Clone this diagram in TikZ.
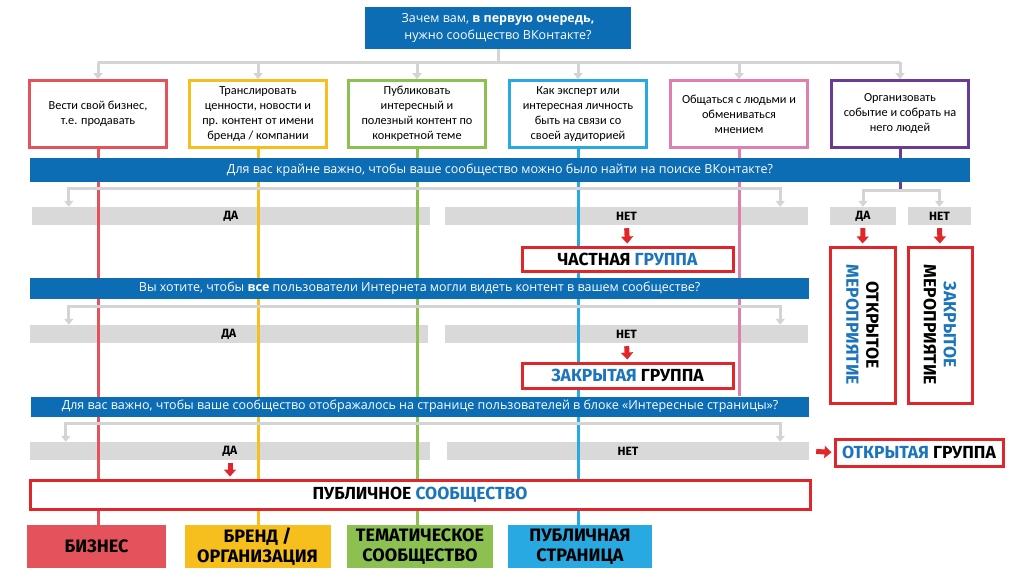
\documentclass[tikz,border=0pt]{standalone}
\usepackage{fontspec}
\setmainfont{Open Sans}
\newfontfamily\boxfont{Carlito}
\newfontfamily\heavyfont{Fira Sans}
\usetikzlibrary{arrows.meta}
\pgfdeclarelayer{bars}
\pgfdeclarelayer{lines}
\pgfsetlayers{bars,lines,main}
\definecolor{vkblue}{HTML}{0C6CB4}
\definecolor{labblue}{HTML}{1C75BC}
\definecolor{resred}{HTML}{E0262B}
\definecolor{connGray}{HTML}{D4D4D4}
\definecolor{barGray}{HTML}{D9D9D9}
\definecolor{cRed}{HTML}{E4535B}
\definecolor{cYellow}{HTML}{F7BF1E}
\definecolor{cGreen}{HTML}{8CC152}
\definecolor{cBlue}{HTML}{29A9E1}
\definecolor{cPink}{HTML}{DE7FAF}
\definecolor{cPurple}{HTML}{6A3B95}
\begin{document}
\begin{tikzpicture}[x=1pt,y=-1pt,
  goal/.style={draw=#1,line width=2.5pt,fill=white,minimum width=137pt,minimum height=67pt,
    inner sep=1pt,align=center,font=\boxfont\fontsize{12.3}{15}\selectfont},
  question/.style={fill=vkblue,text=white,inner sep=0pt,minimum height=22pt,
    font=\fontsize{12.5}{15}\selectfont},
  answer/.style={fill=barGray,inner sep=0pt,minimum height=18pt,
    font=\heavyfont\bfseries\fontsize{12}{12}\selectfont},
  result/.style={draw=resred,line width=3pt,fill=white,inner sep=0pt,align=center,
    font=\heavyfont\bfseries\fontsize{17.5}{20}\selectfont},
  kind/.style={fill=#1,minimum height=43pt,inner sep=0pt,align=center,
    font=\heavyfont\bfseries\fontsize{18}{20}\selectfont},
  conn/.style={draw=connGray,line width=3pt,-{Triangle[width=9pt,length=6pt]}},
  track/.style={draw=#1,line width=3pt},
  pick/.style={draw=resred,line width=5pt,-{Triangle[width=12pt,length=7pt]},shorten <=3pt,shorten >=2pt}]
\useasboundingbox (0,0) rectangle (1024,580);

% main question
\node[question,align=center,minimum width=266pt,minimum height=42pt,
  font=\fontsize{12.5}{17}\selectfont] (top) at (498,28)
  {Зачем вам, \textbf{в первую очередь,}\\нужно сообщество ВКонтакте?};

% goals
\node[goal=cRed]    (g1) at (98,114)  {Вести свой бизнес,\\т.е. продавать};
\node[goal=cYellow] (g2) at (258,114) {Транслировать\\ценности, новости и\\пр. контент от имени\\бренда / компании};
\node[goal=cGreen]  (g3) at (417,114) {Публиковать\\интересный и\\полезный контент по\\конкретной теме};
\node[goal=cBlue]   (g4) at (578,114) {Как эксперт или\\интересная личность\\быть на связи со\\своей аудиторией};
\node[goal=cPink]   (g5) at (739,114) {Общаться с людьми и\\обмениваться\\мнением};
\node[goal=cPurple] (g6) at (900,114) {Организовать\\событие и собрать на\\него людей};

\draw[conn,-] (top.south) -- ++(0,13) coordinate (hub);
\draw[conn,-] (g1.north |- hub) -- (g6.north |- hub);
\foreach \i in {1,...,6}
  \draw[conn] (g\i.north |- hub) -- (g\i.north);

% questions
\node[question,minimum width=940pt,minimum height=24pt] (q1) at (500,170)
  {Для вас крайне важно, чтобы ваше сообщество можно было найти на поиске ВКонтакте?};
\node[question,minimum width=779pt,minimum height=21pt] (q2) at (419.5,288.5)
  {Вы хотите, чтобы \textbf{все} пользователи Интернета могли видеть контент в вашем сообществе?};
\node[question,minimum width=778pt,minimum height=20pt] (q3) at (420,406.5)
  {Для вас важно, чтобы ваше сообщество отображалось на странице пользователей в блоке «Интересные страницы»?};

% answers
\begin{pgfonlayer}{bars}
\node[answer,minimum width=398pt] (yes1) at (231,216)   {ДА};
\node[answer,minimum width=363pt] (no1)  at (626.5,216) {НЕТ};
\node[answer,minimum width=66pt]  (yes0) at (863,216)   {ДА};
\node[answer,minimum width=63pt]  (no0)  at (939.5,216) {НЕТ};
\node[answer,minimum width=398pt] (yes2) at (229,334)   {ДА};
\node[answer,minimum width=363pt] (no2)  at (626.5,334) {НЕТ};
\node[answer,minimum width=400pt] (yes3) at (230,451)   {ДА};
\node[answer,minimum width=362pt] (no3)  at (628,451)   {НЕТ};
\end{pgfonlayer}

\draw[conn,{Triangle[width=9pt,length=6pt]}-{Triangle[width=9pt,length=6pt]}]
  ([xshift=37pt]yes1.north west) |- ([yshift=-6pt]q1.south) -| ([xshift=-28pt]no1.north east);
\draw[conn,{Triangle[width=9pt,length=6pt]}-{Triangle[width=9pt,length=6pt]}]
  ([xshift=39pt]yes2.north west) |- ([yshift=-7pt]q2.south) -| ([xshift=-28pt]no2.north east);
\draw[conn,{Triangle[width=9pt,length=6pt]}-{Triangle[width=9pt,length=6pt]}]
  ([xshift=36pt]yes3.north west) |- ([yshift=-7pt]q3.south) -| ([xshift=-29pt]no3.north east);

% results
\node[result,minimum width=211pt,minimum height=24pt] (priv) at (627.5,259)
  {ЧАСТНАЯ \textcolor{labblue}{ГРУППА}};
\node[result,minimum width=211pt,minimum height=25pt] (closed) at (627.5,375.5)
  {\textcolor{labblue}{ЗАКРЫТАЯ} ГРУППА};
\node[result,minimum width=168pt,minimum height=27pt] (open) at (919,452.5)
  {\textcolor{labblue}{ОТКРЫТАЯ} ГРУППА};
\node[result,minimum width=780pt,minimum height=29pt] (public) at (420,494.5)
  {ПУБЛИЧНОЕ \textcolor{labblue}{СООБЩЕСТВО}};
\node[result,rotate=-90,minimum width=156pt,minimum height=65pt] (oev) at (862.5,325)
  {ОТКРЫТОЕ\\\textcolor{labblue}{МЕРОПРИЯТИЕ}};
\node[result,rotate=-90,minimum width=156pt,minimum height=64pt] (cev) at (940,325)
  {\textcolor{labblue}{ЗАКРЫТОЕ}\\МЕРОПРИЯТИЕ};

% community kinds
\node[kind=cRed,minimum width=139pt]    (b1) at (96.5,546.5) {БИЗНЕС};
\node[kind=cYellow,minimum width=146pt] (b2) at (257.5,546.5) {БРЕНД /\\ОРГАНИЗАЦИЯ};
\node[kind=cGreen,minimum width=146pt]  (b3) at (420,546.5) {ТЕМАТИЧЕСКОЕ\\СООБЩЕСТВО};
\node[kind=cBlue,minimum width=144pt]   (b4) at (580,546.5) {ПУБЛИЧНАЯ\\СТРАНИЦА};

% coloured tracks
\begin{pgfonlayer}{lines}
\draw[track=cRed]    (g1.south) -- (g1.south |- b1.north);
\draw[track=cYellow] (g2.south) -- (g2.south |- b2.north);
\draw[track=cGreen]  (g3.south) -- (g3.south |- b3.north);
\draw[track=cBlue]   (g4.south) -- (g4.south |- b4.north);
\draw[track=cPink]   (g5.south) -- (g5.south |- q3.north);
\draw[track=cPurple] (g6.south) -- ([yshift=-8pt]g6.south |- q1.south) coordinate (fork);
\end{pgfonlayer}
\draw[conn,{Triangle[width=9pt,length=6pt]}-{Triangle[width=9pt,length=6pt]}]
  (yes0.north) |- (fork) -| (no0.north);

% red pointers
\draw[pick] (no1.south) -- (priv.north);
\draw[pick] (yes0.south) -- (oev.west);
\draw[pick] (no0.south) -- (cev.west);
\draw[pick] (no2.south) -- (closed.north);
\draw[pick] (yes3.south) -- (yes3.south |- public.north);
\draw[pick,shorten <=7pt] (no3.east) -- (open.west);
\end{tikzpicture}
\end{document}
